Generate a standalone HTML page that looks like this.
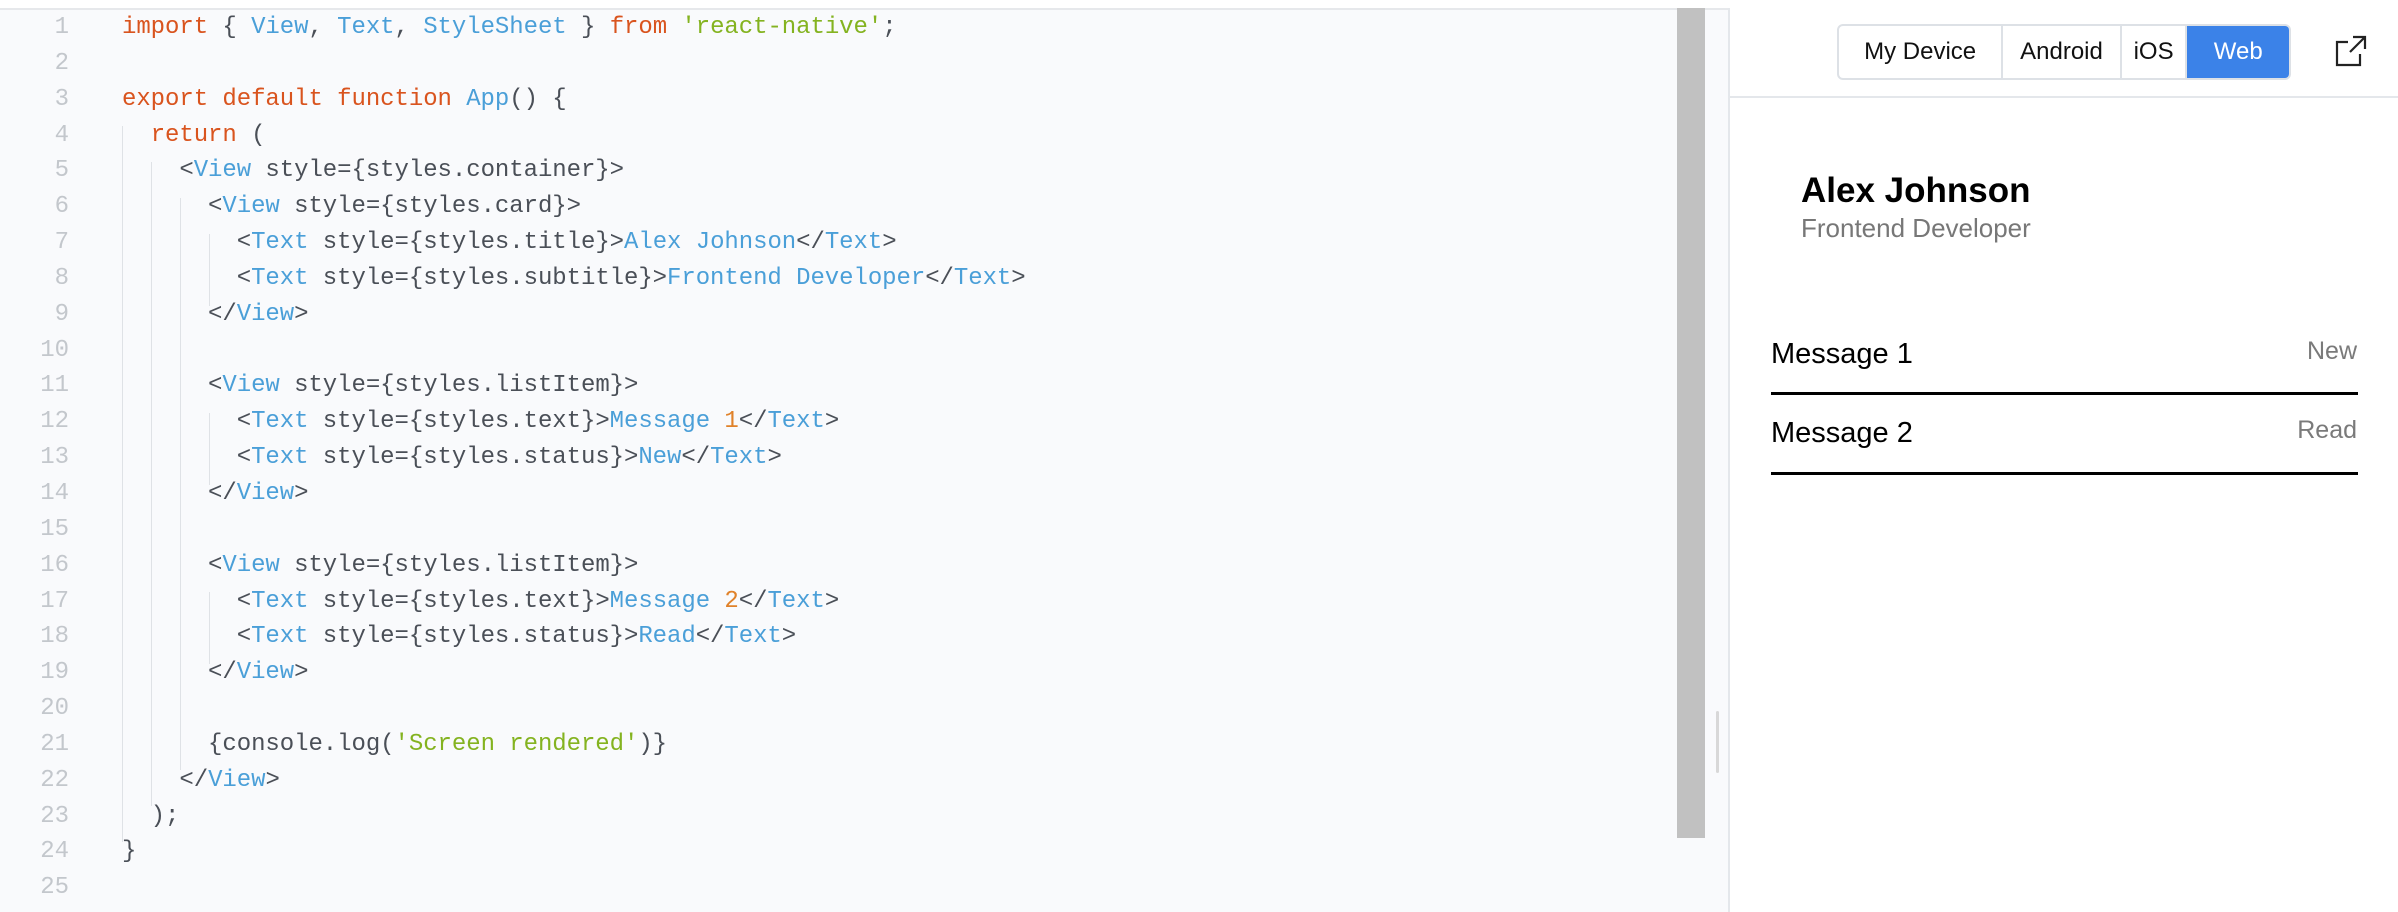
<!DOCTYPE html>
<html><head><meta charset="utf-8"><style>
*{margin:0;padding:0;box-sizing:border-box}
body{width:2398px;height:912px;position:relative;background:#fff;overflow:hidden;font-family:"Liberation Sans",sans-serif}
#ed{position:absolute;left:0;top:8px;width:1728px;height:904px;background:#f9fafc;border-top:2px solid #e6e8eb}
.ln{position:absolute;left:0;width:69px;text-align:right;font:24px/35.85px "Liberation Mono",monospace;color:#c3c7cc}
.cd{position:absolute;left:122px;font:24px/35.85px "Liberation Mono",monospace;color:#4a4f57;white-space:pre;letter-spacing:-0.06px}
.k{color:#d9541e}.b{color:#4a9fd8}.s{color:#84b320}.o{color:#e0822a}
.g{position:absolute;width:1px;background:#dfe2e6}
#sb{position:absolute;left:1677px;top:8px;width:28px;height:830px;background:#c1c1c1}
#th{position:absolute;left:1716px;top:711px;width:3px;height:62px;background:#d8d8d8;border-radius:2px}
#dv{position:absolute;left:1728px;top:8px;width:2px;height:904px;background:#e4e7eb}
#rp{position:absolute;left:1730px;top:8px;width:668px;height:904px;background:#fff}
#hb{position:absolute;left:1730px;top:96px;width:668px;height:2px;background:#e4e7eb}
#seg{position:absolute;left:1837px;top:24px;width:454px;height:56px;border:2px solid #dde1e6;border-radius:6px;display:flex;font-size:24px;color:#111;overflow:hidden}
#seg div{display:flex;align-items:center;justify-content:center;border-right:2px solid #dde1e6}
</style></head><body>
<div id="ed"></div>
<div id="sb"></div><div id="th"></div><div id="dv"></div>
<div id="rp"></div><div id="hb"></div>
<div class="g" style="left:122px;top:126px;height:716px"></div>
<div class="g" style="left:151px;top:162px;height:644px"></div>
<div class="g" style="left:180px;top:198px;height:572px"></div>
<div class="g" style="left:209px;top:234px;height:72px"></div>
<div class="g" style="left:209px;top:413px;height:72px"></div>
<div class="g" style="left:209px;top:592px;height:72px"></div>

<div class="ln" style="top:10px">1<br>2<br>3<br>4<br>5<br>6<br>7<br>8<br>9<br>10<br>11<br>12<br>13<br>14<br>15<br>16<br>17<br>18<br>19<br>20<br>21<br>22<br>23<br>24<br>25</div>
<div class="cd" style="top:10px"><span class="k">import</span> { <span class="b">View</span>, <span class="b">Text</span>, <span class="b">StyleSheet</span> } <span class="k">from</span> <span class="s">'react-native'</span>;

<span class="k">export default function</span> <span class="b">App</span>() {
  <span class="k">return</span> (
    &lt;<span class="b">View</span> style={styles.container}&gt;
      &lt;<span class="b">View</span> style={styles.card}&gt;
        &lt;<span class="b">Text</span> style={styles.title}&gt;<span class="b">Alex Johnson</span>&lt;/<span class="b">Text</span>&gt;
        &lt;<span class="b">Text</span> style={styles.subtitle}&gt;<span class="b">Frontend Developer</span>&lt;/<span class="b">Text</span>&gt;
      &lt;/<span class="b">View</span>&gt;

      &lt;<span class="b">View</span> style={styles.listItem}&gt;
        &lt;<span class="b">Text</span> style={styles.text}&gt;<span class="b">Message</span> <span class="o">1</span>&lt;/<span class="b">Text</span>&gt;
        &lt;<span class="b">Text</span> style={styles.status}&gt;<span class="b">New</span>&lt;/<span class="b">Text</span>&gt;
      &lt;/<span class="b">View</span>&gt;

      &lt;<span class="b">View</span> style={styles.listItem}&gt;
        &lt;<span class="b">Text</span> style={styles.text}&gt;<span class="b">Message</span> <span class="o">2</span>&lt;/<span class="b">Text</span>&gt;
        &lt;<span class="b">Text</span> style={styles.status}&gt;<span class="b">Read</span>&lt;/<span class="b">Text</span>&gt;
      &lt;/<span class="b">View</span>&gt;

      {console.log(<span class="s">'Screen rendered'</span>)}
    &lt;/<span class="b">View</span>&gt;
  );
}
</div>

<div id="seg">
<div style="width:165px">My Device</div>
<div style="width:119px">Android</div>
<div style="width:66px">iOS</div>
<div style="width:102px;background:#3b82e8;color:#fff;border:none">Web</div>
</div>
<svg style="position:absolute;left:2334px;top:34px" width="34" height="34" viewBox="0 0 34 34" fill="none" stroke="#222" stroke-width="2.2">
<path d="M14 8H3v23h23V20"/><path d="M19 3h12v12M31 3L16 18"/></svg>

<div style="position:absolute;left:1801px;top:171px;font-size:35px;font-weight:bold;color:#000">Alex Johnson</div>
<div style="position:absolute;left:1801px;top:213px;font-size:26px;color:#777">Frontend Developer</div>

<div style="position:absolute;left:1771px;top:338px;font-size:29px;color:#000">Message 1</div>
<div style="position:absolute;right:41px;top:337px;font-size:25px;color:#7a7a7a">New</div>
<div style="position:absolute;left:1771px;top:392px;width:587px;height:3px;background:#000"></div>
<div style="position:absolute;left:1771px;top:417px;font-size:29px;color:#000">Message 2</div>
<div style="position:absolute;right:41px;top:416px;font-size:25px;color:#7a7a7a">Read</div>
<div style="position:absolute;left:1771px;top:472px;width:587px;height:3px;background:#000"></div>
</body></html>
